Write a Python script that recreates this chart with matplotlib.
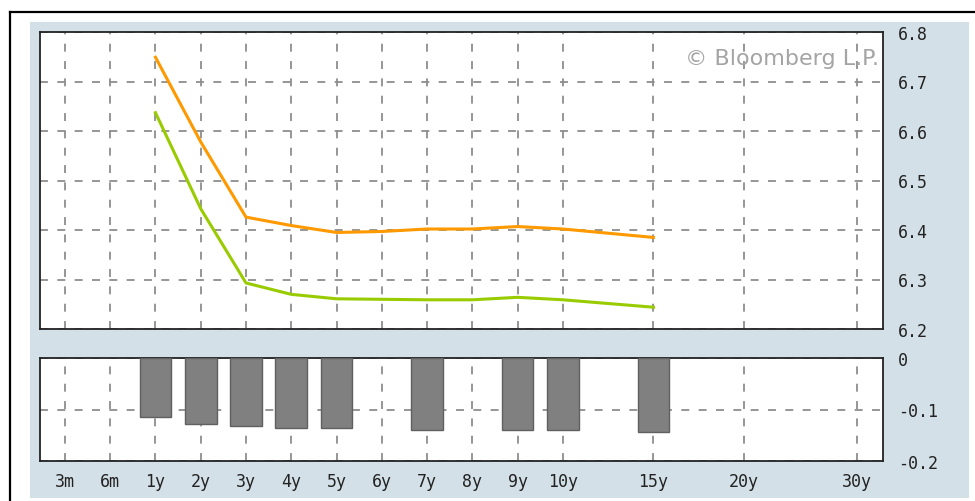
import matplotlib
matplotlib.use("Agg")
import matplotlib.pyplot as plt
from matplotlib.lines import Line2D
from matplotlib.patches import Rectangle

tenors = ["3m", "6m", "1y", "2y", "3y", "4y", "5y", "6y", "7y", "8y", "9y", "10y", "15y", "20y", "30y"]
tenor_pos = [0, 1, 2, 3, 4, 5, 6, 7, 8, 9, 10, 11, 13, 15, 17.5]

curve_tenors = ["1y", "2y", "3y", "4y", "5y", "6y", "7y", "8y", "9y", "10y", "15y"]
orange_vals = [6.749, 6.578, 6.426, 6.409, 6.395, 6.397, 6.402, 6.402, 6.407, 6.402, 6.385]
green_vals = [6.637, 6.443, 6.293, 6.270, 6.261, 6.260, 6.259, 6.259, 6.264, 6.259, 6.244]

bar_tenors = ["1y", "2y", "3y", "4y", "5y", "7y", "9y", "10y", "15y"]
bar_vals = [-0.114, -0.128, -0.132, -0.135, -0.135, -0.139, -0.140, -0.140, -0.143]

top_yticks = [6.2, 6.3, 6.4, 6.5, 6.6, 6.7, 6.8]
bot_yticks = [0, -0.1, -0.2]
bot_ylabels = ["0", "-0.1", "-0.2"]

pos = dict(zip(tenors, tenor_pos))

W, H = 975, 502
fig = plt.figure(figsize=(W / 100, H / 100), dpi=100)
fig.patch.set_facecolor("white")

# blue panel and outer border
fig.patches.append(Rectangle((30 / W, 1 - 499 / H), (969 - 30) / W, (499 - 23) / H,
                             transform=fig.transFigure, facecolor="#d3e0e7", edgecolor="none", zorder=-5))
fig.lines.append(Line2D([10 / W, 1], [1 - 12.5 / H, 1 - 12.5 / H], transform=fig.transFigure, color="black", lw=1.6))
fig.lines.append(Line2D([10 / W, 10 / W], [0, 1 - 12.5 / H], transform=fig.transFigure, color="black", lw=1.6))

ax1 = fig.add_axes([40 / W, 1 - 330 / H, (883 - 40) / W, (330 - 33) / H])
ax2 = fig.add_axes([40 / W, 1 - 462 / H, (883 - 40) / W, (462 - 359) / H])

grid_kw = dict(color="#8e8e8e", lw=1.3, linestyle=(0, (4.4, 5.2)))
mono = "DejaVu Sans Mono"

for ax in (ax1, ax2):
    ax.set_facecolor("white")
    ax.set_xlim(-0.55, 18.07)
    ax.set_xticks(tenor_pos)
    ax.grid(True, **grid_kw)
    ax.set_axisbelow(True)
    for s in ax.spines.values():
        s.set_color("#222222")
        s.set_linewidth(1.3)
    ax.tick_params(length=0, labelsize=12, colors="#222222")
    ax.yaxis.tick_right()

ax1.plot([pos[t] for t in curve_tenors], orange_vals, color="#ff9900", lw=2.2, zorder=3)
ax1.plot([pos[t] for t in curve_tenors], green_vals, color="#99cc00", lw=2.2, zorder=3)
ax1.set_ylim(6.2, 6.8)
ax1.set_yticks(top_yticks)
ax1.set_yticklabels([f"{v:.1f}" for v in top_yticks], family=mono)
ax1.set_xticklabels([])
ax1.tick_params(axis="y", pad=11)
ax1.text(0.995, 0.892, "© Bloomberg L.P.", transform=ax1.transAxes, ha="right", va="baseline",
         fontsize=16, color="#a4a4a4", family="DejaVu Sans")

ax2.bar([pos[t] for t in bar_tenors], bar_vals, width=0.7, color="#808080", edgecolor="#606060",
        lw=1.0, zorder=3)
ax2.set_ylim(-0.2, 0)
ax2.set_yticks(bot_yticks)
ax2.set_yticklabels(bot_ylabels, family=mono)
ax2.set_xticklabels(tenors, family=mono)
ax2.tick_params(axis="y", pad=11)
ax2.tick_params(axis="x", pad=8)

fig.savefig("out.png", dpi=100)
